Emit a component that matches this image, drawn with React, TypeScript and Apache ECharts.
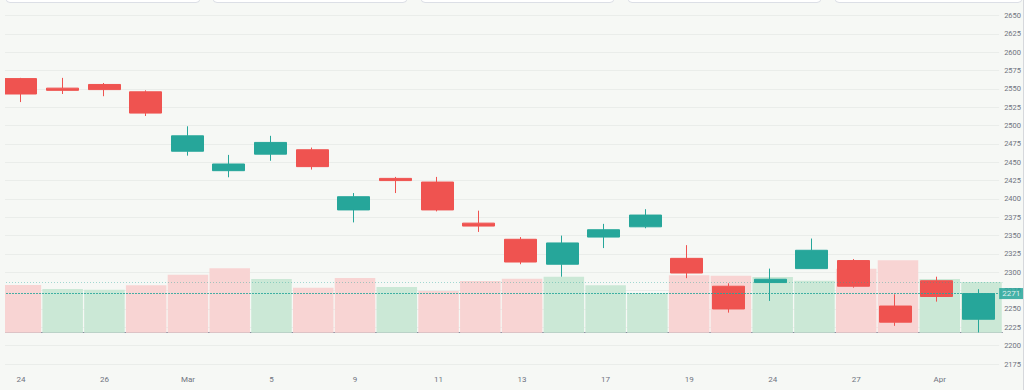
import React, { useEffect, useRef } from "react";
import * as echarts from "echarts";

const categories = ["24", "25", "26", "27", "Mar", "4", "5", "6", "9", "10", "11", "12", "13", "14", "17", "18", "19", "20", "24", "25", "27", "28", "Apr", "2"];
const opens = [2564, 2551, 2556, 2546, 2465, 2438.5, 2461, 2467, 2385, 2428, 2423, 2367, 2345, 2311, 2348, 2362, 2319, 2281, 2286, 2305, 2316, 2254, 2288.5, 2236];
const closes = [2543, 2548, 2549, 2517, 2486, 2447.6, 2477, 2444, 2403, 2425, 2385, 2363, 2314, 2340, 2358, 2378, 2299, 2250, 2290.5, 2330, 2281, 2232, 2267, 2271];
const lows = [2532, 2543, 2540, 2513, 2459, 2429.5, 2452, 2440, 2368, 2408, 2383, 2355, 2311, 2294, 2333, 2360, 2292, 2245, 2261, 2305, 2279, 2227, 2260, 2218];
const highs = [2565, 2565, 2558, 2548, 2499, 2460, 2486, 2470, 2408, 2430, 2430, 2384, 2348, 2350, 2366, 2386, 2337, 2285, 2305, 2346, 2318, 2270, 2294, 2277];
const volumes = [107.8, 98.8, 97.2, 107.2, 131.1, 145.6, 121.4, 101.7, 123.7, 103.3, 94.3, 116.9, 122.1, 126.6, 107.2, 89.1, 129.8, 128.9, 125.9, 117.6, 144.7, 163.7, 121.4, 114.6];
const volumeUp = [0, 1, 1, 0, 0, 0, 1, 0, 0, 1, 0, 0, 0, 1, 1, 1, 0, 0, 1, 1, 0, 0, 1, 1];
const lastPrice = 2271;

const UP = "#26a69a";
const DOWN = "#ef5350";
const BG = "#f6f8f5";
const FONT = "Roboto, 'Noto Sans', sans-serif";

export default function App() {
  const ref = useRef<HTMLDivElement>(null);
  useEffect(() => {
    const chart = echarts.init(ref.current!, null, { renderer: "svg" });
    const candleData = categories.map((_, i) => [opens[i], closes[i], lows[i], highs[i]]);
    const volData = volumes.map((v, i) => ({
      value: v,
      itemStyle: { color: volumeUp[i] ? "#cbe8d6" : "#f8d4d3" },
    }));
    const tabs = [
      [6, 200],
      [213, 407],
      [421, 614],
      [628, 821],
      [835, 1022],
    ];
    chart.setOption({
      animation: false,
      backgroundColor: BG,
      textStyle: { fontFamily: FONT },
      grid: [
        { left: -8.5, right: 21.6, top: 15.5, bottom: 26 },
        { left: -8.5, right: 21.6, top: 200, bottom: 57.3 },
      ],
      xAxis: [
        {
          type: "category",
          gridIndex: 0,
          data: categories,
          boundaryGap: true,
          axisLine: { show: false },
          axisTick: { show: false },
          axisLabel: { show: false },
          splitLine: { show: false },
        },
        {
          type: "category",
          gridIndex: 1,
          data: categories,
          boundaryGap: true,
          offset: 37.3,
          axisLine: { show: true, lineStyle: { color: "#8a8ea0", width: 1 } },
          axisTick: { show: false },
          axisLabel: { interval: 1, fontSize: 8, color: "#6f7380", margin: 5, fontFamily: FONT },
          splitLine: { show: false },
        },
      ],
      yAxis: [
        {
          type: "value",
          gridIndex: 0,
          position: "right",
          min: 2175,
          max: 2650,
          interval: 25,
          axisLine: { show: false },
          axisTick: { show: false },
          axisLabel: {
            fontSize: 7.5,
            color: "#6f7380",
            margin: 5,
            fontFamily: FONT,
            formatter: (v: number) => String(v),
          },
          splitLine: { show: true, lineStyle: { color: "#eaedea", width: 1 } },
        },
        {
          type: "value",
          gridIndex: 1,
          min: 0,
          max: 300,
          show: false,
          splitLine: { show: false },
        },
      ],
      series: [
        {
          type: "bar",
          xAxisIndex: 1,
          yAxisIndex: 1,
          data: volData,
          barCategoryGap: "3%",
          z: 1,
          markLine: {
            silent: true,
            symbol: "none",
            label: { show: false },
            data: [
              {
                yAxis: volumes[volumes.length - 1],
                lineStyle: { type: [1, 2], color: "rgba(38,166,154,0.4)", width: 1 },
              },
            ],
          },
        },
        {
          type: "candlestick",
          xAxisIndex: 0,
          yAxisIndex: 0,
          data: candleData,
          barWidth: "78%",
          z: 3,
          itemStyle: {
            color: UP,
            color0: DOWN,
            borderColor: UP,
            borderColor0: DOWN,
            borderWidth: 1,
          },
        },
        {
          type: "line",
          xAxisIndex: 0,
          yAxisIndex: 0,
          data: [],
          color: UP,
          z: 4,
          markLine: {
            silent: true,
            symbol: "none",
            lineStyle: { type: [2, 1], color: UP, width: 1, opacity: 0.85 },
            label: {
              show: true,
              position: "end",
              distance: 0,
              formatter: String(lastPrice),
              color: "#ffffff",
              backgroundColor: UP,
              padding: [2, 3, 1, 3],
              fontSize: 8,
              fontFamily: FONT,
            },
            data: [{ yAxis: lastPrice }],
          },
        },
      ],
      graphic: [
        {
          type: "rect",
          shape: { x: 0, y: 0, width: 5, height: 390 },
          style: { fill: BG },
          z: 100,
        },
        {
          type: "line",
          shape: { x1: 1023.5, y1: 0, x2: 1023.5, y2: 390 },
          style: { stroke: "#d6d8dc", lineWidth: 1 },
          z: 100,
        },
        ...tabs.map(([a, b]) => ({
          type: "rect",
          shape: { x: a, y: -10, width: b - a, height: 12.5, r: 4 },
          style: { fill: "#ffffff", stroke: "#dcdfe6", lineWidth: 1 },
          z: 100,
        })),
      ],
    });
    return () => chart.dispose();
  }, []);
  return (
    <div
      ref={ref}
      style={{ position: "fixed", left: 0, top: 0, width: 1024, height: 390 }}
    />
  );
}
